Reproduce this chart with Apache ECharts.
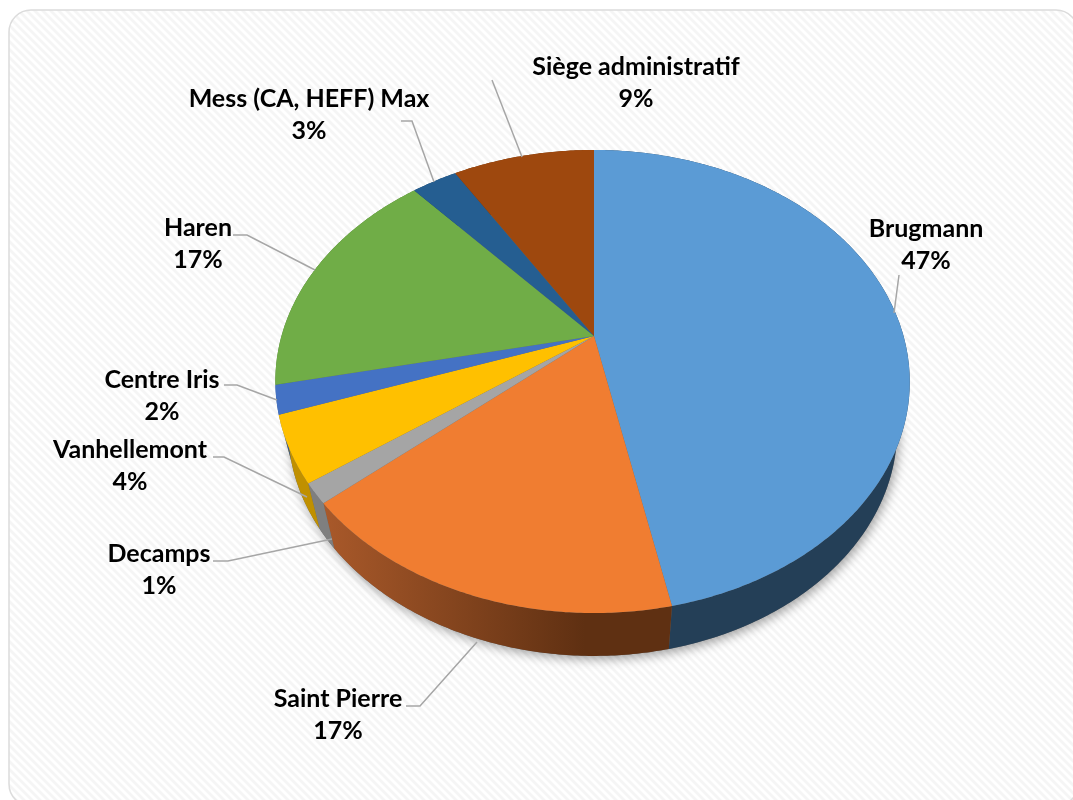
<!DOCTYPE html>
<html><head><meta charset="utf-8">
<style>html,body{margin:0;padding:0;background:#fff}#c{width:1073px;height:800px}</style>
<script src="https://cdn.jsdelivr.net/npm/echarts@6/dist/echarts.min.js"></script>
</head><body><div id="c"></div>
<script>
// ---- data ----
const categories = ['Brugmann','Saint Pierre','Decamps','Vanhellemont','Centre Iris','Haren','Mess (CA, HEFF) Max','Siège administratif'];
const sliceShares = [46.8, 16.9, 1.4, 4.6, 2.0, 16.9, 2.8, 8.7];
const shownPercent = ['47%','17%','1%','4%','2%','17%','3%','9%'];
// ---- style ----
const topColors = ['#5b9bd5','#f07d31','#a5a5a5','#ffc000','#4472c4','#70ad47','#255e91','#9e480e'];
const sideColors = ['#243f57',null,'#7f7f7f','#c09000','#2f5597','#4e7a32','#1a4265','#6e320a'];
// ---- layout (perspective of the pie) ----
const apex = [594, 336], A = 222.6, B = 311, K = 0.1966;
const labelCentres = [[926,229],[338,699],[159,554],[130,450],[162,380],[198,228],[309,99],[636,67]];
const leaderPaths = [
  [[899,275],[894,313]],
  [[406,706],[420,706],[477,642]],
  [[213,561],[228,561],[332,539]],
  [[213,457],[224,457],[307,497]],
  [[224,385],[237,385],[277,400]],
  [[233,235],[247,235],[315,270]],
  [[401,121],[412,121],[434,182]],
  [[492,80],[522,157]]
];
const total = sliceShares.reduce((a,b)=>a+b,0);
const startAngle = i => sliceShares.slice(0,i).reduce((a,b)=>a+b,0)/total*2*Math.PI;
function topPoint(t){
  const u=Math.sin(t), v=Math.cos(t), d=1+K*v;
  return [apex[0]+B*u/d-1.5*u*u, apex[1]-A*v/d];
}
function lowPoint(t){
  const p=topPoint(t);
  return [apex[0]+0.96*(p[0]-apex[0]), 0.98*p[1]+55.1];
}
function arc(fn,a,b){
  const n=Math.max(2,Math.ceil((b-a)/0.01)), pts=[];
  for(let i=0;i<=n;i++) pts.push(fn(a+(b-a)*i/n));
  return pts;
}
const rows = categories.map((c,i)=>[i,sliceShares[i]]);

function renderShadow(params){
  if(params.dataIndex!==0) return {type:'group',children:[]};
  return {type:'polygon',shape:{points:arc(lowPoint,0,2*Math.PI)},
    style:{fill:'#666',shadowColor:'rgba(0,0,0,0.38)',shadowBlur:11,shadowOffsetX:2,shadowOffsetY:3}};
}
function renderSide(params,api){
  const i=api.value(0), a=startAngle(i), b=a+api.value(1)/total*2*Math.PI;
  const pts=arc(topPoint,a,b).concat(arc(lowPoint,a,b).reverse());
  const fill = sideColors[i] || {type:'linear',x:0,y:0,x2:1,y2:0,global:false,colorStops:[
    {offset:0,color:'#a9592a'},{offset:0.75,color:'#5f3012'},{offset:1,color:'#5f3012'}]};
  return {type:'polygon',shape:{points:pts},style:{fill:fill}};
}
function renderTop(params,api){
  const i=api.value(0), a=startAngle(i), b=a+api.value(1)/total*2*Math.PI;
  return {type:'polygon',shape:{points:[apex].concat(arc(topPoint,a,b))},style:{fill:topColors[i]}};
}
function renderLabel(params,api){
  const i=api.value(0), c=labelCentres[i];
  return {type:'group',children:[
    {type:'polyline',shape:{points:leaderPaths[i]},style:{fill:'none',stroke:'#a6a6a6',lineWidth:1.5}},
    {type:'text',x:c[0],y:c[1],style:{text:categories[i],fill:'#000',font:'bold 25px Lato',align:'center',verticalAlign:'middle'}},
    {type:'text',x:c[0],y:c[1]+32,style:{text:shownPercent[i],fill:'#000',font:'bold 25px Lato',align:'center',verticalAlign:'middle'}}
  ]};
}
// faint diagonal hatch of the card
const tile=document.createElement('canvas'); tile.width=8; tile.height=8;
const g=tile.getContext('2d'); g.fillStyle='#fff'; g.fillRect(0,0,8,8);
g.strokeStyle='#f5f5f5'; g.lineWidth=2.8;
[[-8,-8,8,8],[-8,0,8,16],[0,-8,16,8]].forEach(l=>{g.beginPath();g.moveTo(l[0],l[1]);g.lineTo(l[2],l[3]);g.stroke();});

const chart=echarts.init(document.getElementById('c'));
const base={type:'custom',coordinateSystem:'none',data:rows,animation:false,silent:true,clip:false,encode:{value:1}};
chart.setOption({
  animation:false,
  backgroundColor:'#fff',
  graphic:[{type:'rect',silent:true,shape:{x:9,y:10,width:1069,height:796,r:22},
    style:{fill:{image:tile,repeat:'repeat'},stroke:'#dcdcdc',lineWidth:1.5}}],
  series:[
    Object.assign({},base,{name:'shadow',z:2,renderItem:renderShadow}),
    Object.assign({},base,{name:'sides',z:3,renderItem:renderSide}),
    Object.assign({},base,{name:'slices',z:4,renderItem:renderTop}),
    Object.assign({},base,{name:'labels',z:5,renderItem:renderLabel})
  ]
});
</script></body></html>
